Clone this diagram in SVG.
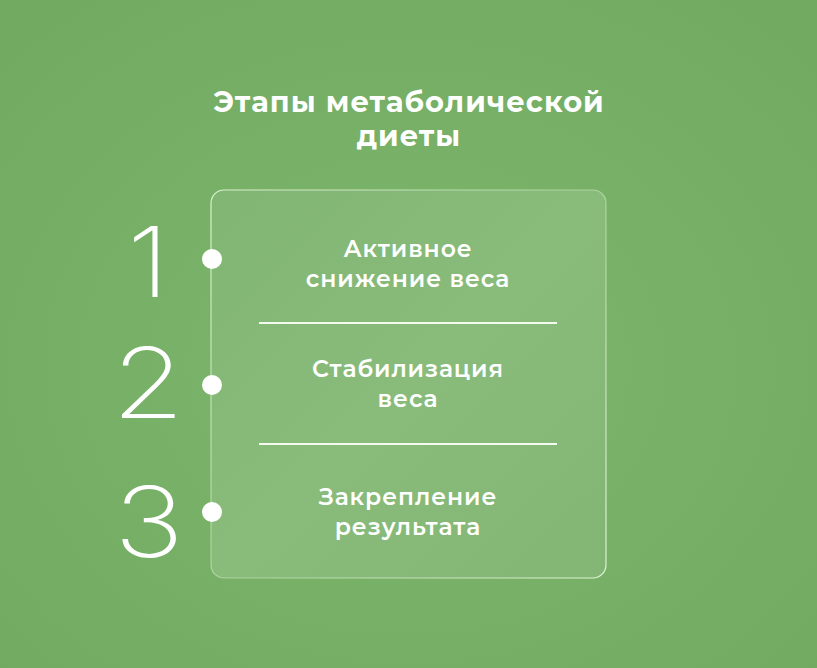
<svg xmlns="http://www.w3.org/2000/svg" width="817" height="668" viewBox="0 0 817 668">
<defs>
<radialGradient id="bg" cx="0.5" cy="0.55" r="0.7">
<stop offset="0" stop-color="#7db76d"/>
<stop offset="1" stop-color="#71aa60"/>
</radialGradient>
<linearGradient id="panelFill" x1="0" y1="0" x2="1" y2="1">
<stop offset="0" stop-color="#81b573"/>
<stop offset="0.5" stop-color="#89bc7b"/>
<stop offset="1" stop-color="#83b675"/>
</linearGradient>
<linearGradient id="panelStroke" x1="0" y1="0" x2="1" y2="1">
<stop offset="0" stop-color="#e6f7dc" stop-opacity="0.9"/>
<stop offset="0.45" stop-color="#e6f7dc" stop-opacity="0.45"/>
<stop offset="0.55" stop-color="#e6f7dc" stop-opacity="0.45"/>
<stop offset="1" stop-color="#e6f7dc" stop-opacity="0.95"/>
</linearGradient>
<style>
.title{font-family:Montserrat,"Inter","Noto Sans",sans-serif;font-weight:700;font-size:29px;letter-spacing:1px;fill:#ffffff;text-anchor:middle}
.item{font-family:Montserrat,"Inter","Noto Sans",sans-serif;font-weight:600;font-size:23.5px;letter-spacing:0.9px;fill:#ffffff;text-anchor:middle}
.num{font-family:"Inter","Noto Sans",sans-serif;font-weight:200;font-size:98px;fill:#ffffff;text-anchor:middle}
.sep{stroke:#f2fbee;stroke-width:2}
.dot{fill:#ffffff}
</style>
</defs>
<rect width="817" height="668" fill="url(#bg)"/>
<g id="title">
<text class="title" x="409" y="112">Этапы метаболической</text>
<text class="title" x="409" y="146">диеты</text>
</g>
<g id="panel">
<rect x="211" y="190" width="395" height="388" rx="13" fill="url(#panelFill)" stroke="url(#panelStroke)" stroke-width="1.2"/>
</g>
<g id="connectors">
<line class="sep" x1="259" y1="323" x2="557" y2="323"/>
<line class="sep" x1="259" y1="444" x2="557" y2="444"/>
</g>
<g id="step1">
<text class="num" transform="translate(148 297) scale(1.12 1)">1</text>
<circle class="dot" cx="212" cy="259" r="10"/>
<text class="item" x="408" y="257">Активное</text>
<text class="item" x="408" y="287">снижение веса</text>
</g>
<g id="step2">
<text class="num" transform="translate(148 418) scale(1.2 1)">2</text>
<circle class="dot" cx="212" cy="385" r="10"/>
<text class="item" x="408" y="377">Стабилизация</text>
<text class="item" x="408" y="407">веса</text>
</g>
<g id="step3">
<text class="num" transform="translate(149 557) scale(1.2 1)">3</text>
<circle class="dot" cx="212" cy="512" r="10"/>
<text class="item" x="408" y="505">Закрепление</text>
<text class="item" x="408" y="535">результата</text>
</g>
</svg>
